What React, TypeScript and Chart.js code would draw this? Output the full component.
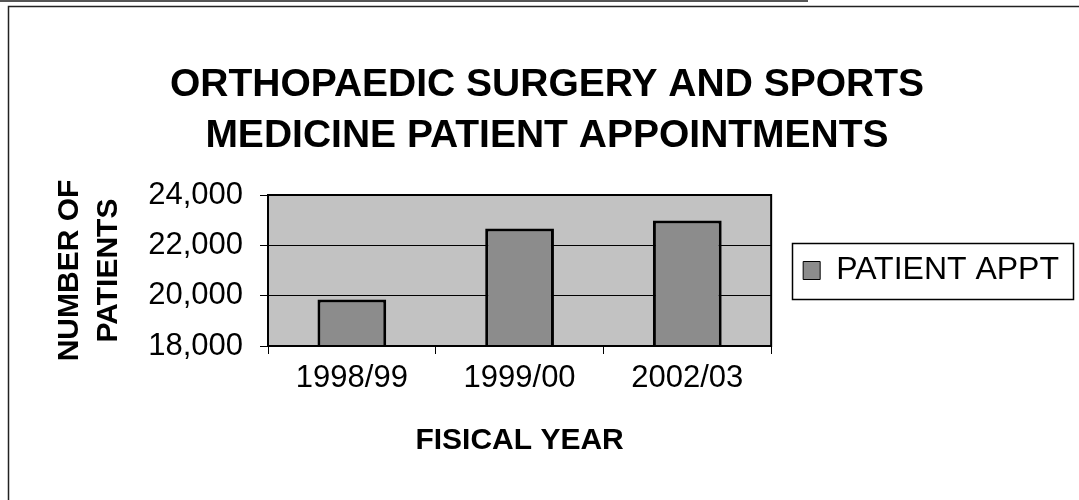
import React, { useEffect, useRef } from "react";
import { Chart, registerables } from "chart.js";

Chart.register(...registerables);

const categories = ["1998/99", "1999/00", "2002/03"];
const seriesLabel = "PATIENT APPT";
const patientAppts = [19850, 22670, 22990];
const yTicks = [18000, 20000, 22000, 24000];
const titleLines = ["ORTHOPAEDIC SURGERY AND SPORTS", "MEDICINE PATIENT APPOINTMENTS"];
const yTitleLines = ["NUMBER OF", "PATIENTS"];
const xTitle = "FISICAL YEAR";

const FONT = "'Liberation Sans', Arial, Helvetica, sans-serif";

const decorPlugin = {
  id: "decor",
  beforeDraw(chart: any) {
    const { ctx, chartArea: a } = chart;
    ctx.save();
    ctx.fillStyle = "#ffffff";
    ctx.fillRect(0, 0, chart.width, chart.height);
    ctx.fillStyle = "#c2c2c2";
    ctx.fillRect(a.left, a.top, a.right - a.left, a.bottom - a.top);
    ctx.restore();
  },
  afterDatasetsDraw(chart: any) {
    const { ctx, chartArea: a } = chart;
    ctx.save();
    ctx.strokeStyle = "#000";
    ctx.lineWidth = 2;
    ctx.strokeRect(a.left, a.top, a.right - a.left, a.bottom - a.top);
    ctx.restore();
  },
  afterDraw(chart: any) {
    const { ctx } = chart;
    ctx.save();
    ctx.strokeStyle = "#222";
    ctx.lineWidth = 1.5;
    ctx.beginPath();
    ctx.moveTo(8.5, chart.height);
    ctx.lineTo(8.5, 6.5);
    ctx.lineTo(chart.width, 6.5);
    ctx.stroke();
    ctx.strokeStyle = "#555";
    ctx.lineWidth = 2;
    ctx.beginPath();
    ctx.moveTo(0, 1);
    ctx.lineTo(808, 1);
    ctx.stroke();
    const lg = chart.legend;
    if (lg && lg.legendHitBoxes && lg.legendHitBoxes.length) {
      const hb = lg.legendHitBoxes[0];
      ctx.strokeStyle = "#000";
      ctx.lineWidth = 1.5;
      const x0 = hb.left - 11;
      const x1 = hb.left + hb.width + 14;
      const y0 = hb.top - 12;
      const y1 = hb.top + hb.height + 12;
      ctx.strokeRect(Math.round(x0) + 0.5, Math.round(y0) + 0.5, Math.round(x1 - x0), Math.round(y1 - y0));
    }
    ctx.restore();
  },
};

export default function App() {
  const ref = useRef<HTMLCanvasElement | null>(null);

  useEffect(() => {
    if (!ref.current) return;
    const chart = new Chart(ref.current, {
      type: "bar",
      data: {
        labels: categories,
        datasets: [
          {
            label: seriesLabel,
            data: patientAppts,
            backgroundColor: "#8c8c8c",
            borderColor: "#000",
            borderWidth: 3,
            borderSkipped: false,
            categoryPercentage: 1,
            barPercentage: 0.41,
          },
        ],
      },
      options: {
        responsive: false,
        animation: false,
        layout: { padding: { left: 25, right: 10, top: 0, bottom: 0 } },
        plugins: {
          tooltip: { enabled: false },
          title: {
            display: true,
            text: titleLines,
            color: "#000",
            font: { family: FONT, size: 39, weight: "bold", lineHeight: "51px" },
            padding: { top: 60, bottom: 33 },
          },
          legend: {
            display: true,
            position: "right",
            fullSize: false,
            maxWidth: 400,
            labels: {
              color: "#000",
              font: { family: FONT, size: 32 },
              boxWidth: 17,
              boxHeight: 18,
              padding: 32,
              generateLabels(chart: any) {
                const items = Chart.defaults.plugins.legend.labels.generateLabels(chart);
                return items.map((it: any) => ({ ...it, lineWidth: 1 }));
              },
            },
          },
        },
        scales: {
          x: {
            type: "category",
            offset: true,
            grid: {
              offset: true,
              drawOnChartArea: false,
              drawTicks: true,
              tickLength: 8,
              color: "#000",
              lineWidth: 1,
            },
            border: { display: true, color: "#000", width: 2 },
            ticks: {
              color: "#000",
              font: { family: FONT, size: 31 },
              padding: 6,
              maxRotation: 0,
            },
            title: {
              display: true,
              text: xTitle,
              color: "#000",
              font: { family: FONT, size: 30, weight: "bold", lineHeight: 1.2 },
              padding: { top: 0, bottom: 41 },
            },
            afterFit(scale: any) {
              scale.height = 154;
            },
          },
          y: {
            type: "linear",
            min: yTicks[0],
            max: yTicks[yTicks.length - 1],
            afterBuildTicks(scale: any) {
              scale.ticks = yTicks.map((v) => ({ value: v }));
            },
            grid: {
              drawOnChartArea: true,
              drawTicks: true,
              tickLength: 8,
              color: "#000",
              lineWidth: 1,
            },
            border: { display: true, color: "#000", width: 2 },
            ticks: {
              color: "#000",
              font: { family: FONT, size: 31 },
              padding: 17,
              callback: (v: any) => Number(v).toLocaleString("en-US"),
            },
            title: {
              display: true,
              text: yTitleLines,
              color: "#000",
              font: { family: FONT, size: 30, weight: "bold", lineHeight: "39px" },
              padding: { top: 25, bottom: 0 },
            },
            afterFit(scale: any) {
              scale.width = 243;
            },
          },
        },
      },
      plugins: [decorPlugin],
    } as any);
    return () => chart.destroy();
  }, []);

  return (
    <div style={{ position: "absolute", left: 0, top: 0, width: 1079, height: 500, background: "#fff" }}>
      <canvas ref={ref} width={1079} height={500} style={{ display: "block", width: 1079, height: 500 }} />
    </div>
  );
}
